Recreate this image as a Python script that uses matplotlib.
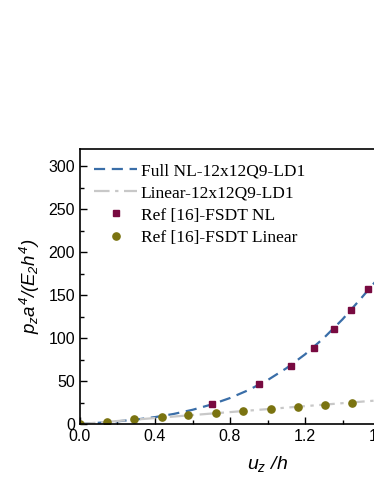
import matplotlib
matplotlib.use("Agg")
import matplotlib.pyplot as plt
from matplotlib.ticker import MultipleLocator

# curve from the model
nl_u = [0.0, 0.1, 0.2, 0.3, 0.4, 0.5, 0.6, 0.7, 0.8, 0.9, 1.0, 1.1, 1.2, 1.3, 1.4, 1.5, 1.6]
nl_p = [0.0, 1.4, 3.1, 5.2, 8.0, 11.7, 16.5, 22.6, 30.2, 39.6, 51.0, 64.8, 81.0, 100.0, 121.8, 146.5, 172.0]
lin_u = [0.0, 2.0]
lin_p = [0.0, 34.6]

# reference points
ref_nl_u = [0.706, 0.955, 1.124, 1.25, 1.356, 1.445, 1.534]
ref_nl_p = [22.9, 46.0, 67.4, 89.0, 111.0, 133.0, 157.0]
ref_lin_u = [0.0, 0.142, 0.288, 0.436, 0.578, 0.724, 0.871, 1.017, 1.161, 1.307, 1.449]
ref_lin_p = [0.0, 2.7, 5.4, 7.8, 10.1, 12.4, 14.8, 17.4, 19.8, 22.5, 24.8]

plt.rcParams['font.family'] = ['Liberation Sans', 'DejaVu Sans']
plt.rcParams['mathtext.fontset'] = 'custom'
plt.rcParams['mathtext.it'] = 'Liberation Sans:italic'
plt.rcParams['mathtext.rm'] = 'Liberation Sans:italic'

fig = plt.figure(figsize=(3.74, 4.84), dpi=100)
ax = fig.add_axes([0.2139, 0.124, 1.0027, 0.568])

ax.plot(nl_u, nl_p, ls=(0, (5, 3)), color='#3a6ea8', lw=1.6, label='Full NL-12x12Q9-LD1')
ax.plot(lin_u, lin_p, ls=(0, (7, 2.5, 1.5, 2.5)), color='#c8c8c8', lw=1.6, label='Linear-12x12Q9-LD1')
ax.plot(ref_nl_u, ref_nl_p, 's', color='#780a40', ms=4.8, label='Ref [16]-FSDT NL')
ax.plot(ref_lin_u, ref_lin_p, 'o', color='#7a7310', ms=5.2, label='Ref [16]-FSDT Linear')

ax.set_xlim(0, 2.0)
ax.set_ylim(0, 320)
ax.xaxis.set_major_locator(MultipleLocator(0.4))
ax.xaxis.set_minor_locator(MultipleLocator(0.2))
ax.yaxis.set_major_locator(MultipleLocator(50))
ax.yaxis.set_minor_locator(MultipleLocator(25))
ax.xaxis.set_major_formatter(plt.FuncFormatter(lambda v, p: f"{v:.1f}"))
ax.tick_params(which='both', direction='in', labelsize=11.5, width=1)
ax.tick_params(which='major', length=5)
ax.tick_params(which='minor', length=3)
for s in ax.spines.values():
    s.set_linewidth(1.2)

ax.set_xlabel('$u_z\\ /h$', fontsize=14, labelpad=7)
ax.set_ylabel('$p_z a^4/(E_2 h^4)$', fontsize=13.5, labelpad=5)

ax.legend(loc='upper left', bbox_to_anchor=(0.0, 1.0), frameon=False,
          prop={'family': 'Liberation Serif', 'size': 12.5},
          handlelength=2.5, handletextpad=0.2, labelspacing=0.35, borderaxespad=0.4)

fig.savefig('out.png', dpi=100)
